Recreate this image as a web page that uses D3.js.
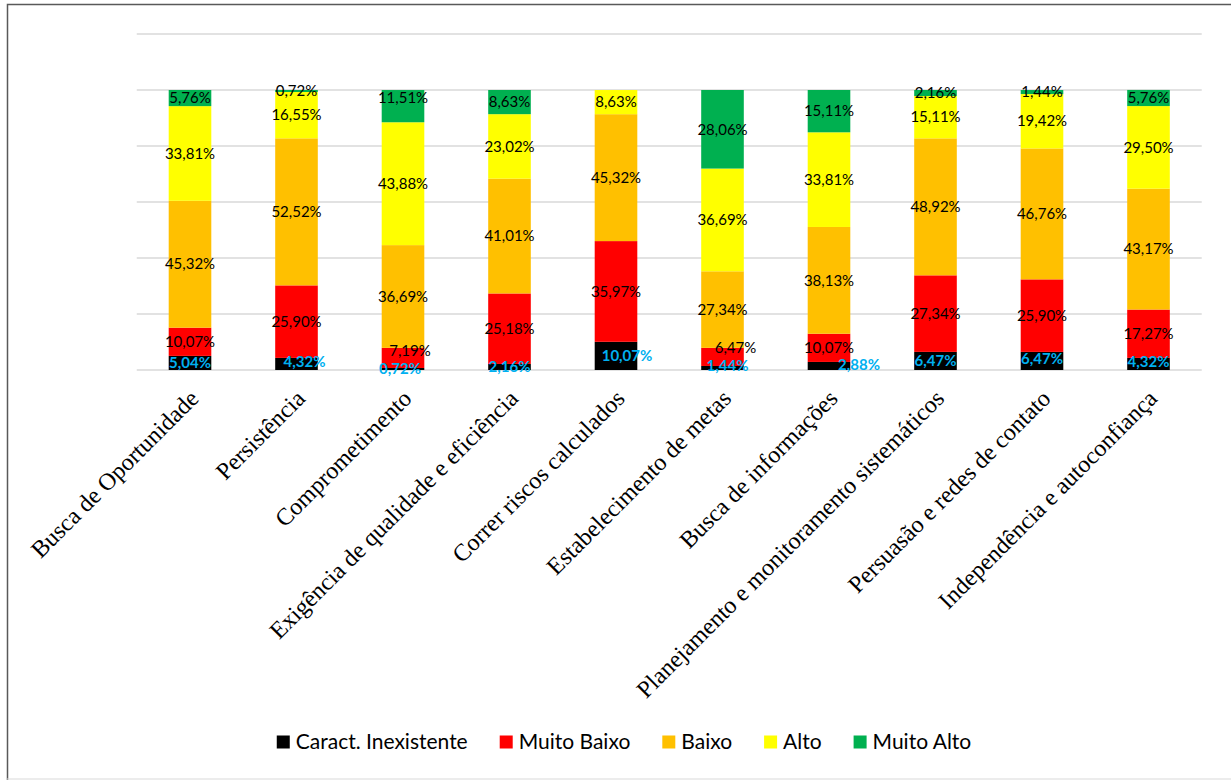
<!DOCTYPE html>
<html>
<head>
<meta charset="utf-8">
<script src="https://cdn.jsdelivr.net/npm/d3@7"></script>
<style>
  html, body { margin: 0; padding: 0; background: #fff; }
  svg { display: block; }
</style>
</head>
<body>
<div id="chart"></div>
<script>
// categories (x axis)
const categories = [
  "Busca de Oportunidade",
  "Persistência",
  "Comprometimento",
  "Exigência de qualidade e eficiência",
  "Correr riscos calculados",
  "Estabelecimento de metas",
  "Busca de informações",
  "Planejamento e monitoramento sistemáticos",
  "Persuasão e redes de contato",
  "Independência e autoconfiança"
];
// series names, stacked bottom -> top
const seriesNames = ["Caract. Inexistente", "Muito Baixo", "Baixo", "Alto", "Muito Alto"];
// values in %, one per category
const caractInexistente = [5.04, 4.32, 0.72, 2.16, 10.07, 1.44, 2.88, 6.47, 6.47, 4.32];
const muitoBaixo        = [10.07, 25.90, 7.19, 25.18, 35.97, 6.47, 10.07, 27.34, 25.90, 17.27];
const baixo             = [45.32, 52.52, 36.69, 41.01, 45.32, 27.34, 38.13, 48.92, 46.76, 43.17];
const alto              = [33.81, 16.55, 43.88, 23.02, 8.63, 36.69, 33.81, 15.11, 19.42, 29.50];
const muitoAlto         = [5.76, 0.72, 11.51, 8.63, 0, 28.06, 15.11, 2.16, 1.44, 5.76];
const gridTicks = [0, 20, 40, 60, 80, 100, 120];

const seriesValues = [caractInexistente, muitoBaixo, baixo, alto, muitoAlto];
const colors = ["#000000", "#ff0000", "#ffc000", "#ffff00", "#00b050"];

// hand-moved labels in the original (category index - series index): [dx, dy]
const labelNudge = {
  "1-0": [8, -2], "2-0": [-3, 0], "2-1": [7, -7], "2-4": [0, -8],
  "4-0": [11, 0], "5-0": [5, -2], "5-1": [13, -9], "6-0": [30, -1],
  "8-0": [0, -2], "9-0": [0, -2]
};

const W = 1231, H = 780;
const svg = d3.select("#chart").append("svg").attr("width", W).attr("height", H);

// frame
svg.append("path").attr("d", `M7.5,${H} V4.5 H${W}`)
  .attr("fill", "none").attr("stroke", "#595959").attr("stroke-width", 1.5);
svg.append("line").attr("x1", 7).attr("x2", W).attr("y1", 779).attr("y2", 779)
  .attr("stroke", "#d9d9d9").attr("stroke-width", 1);

const table = categories.map((c, i) => {
  const row = { cat: c, idx: i };
  seriesNames.forEach((s, j) => row[s] = seriesValues[j][i]);
  return row;
});

const x = d3.scaleBand().domain(categories).range([136.75, 1201.75]).paddingInner(0.6).paddingOuter(0.3);
const y = d3.scaleLinear().domain([0, 120]).range([370, 34]);

// gridlines
svg.append("g").selectAll("line").data(gridTicks).join("line")
  .attr("x1", 136.75).attr("x2", 1201.75)
  .attr("y1", d => y(d)).attr("y2", d => y(d))
  .attr("stroke", "#d9d9d9").attr("stroke-width", 1.3);

const stack = d3.stack().keys(seriesNames);
const stacked = stack(table);

const layers = svg.append("g").selectAll("g").data(stacked).join("g")
  .attr("fill", (d, i) => colors[i]);
layers.selectAll("rect").data(d => d).join("rect")
  .attr("x", d => x(d.data.cat))
  .attr("width", x.bandwidth())
  .attr("y", d => y(d[1]))
  .attr("height", d => y(d[0]) - y(d[1]));

const loc = d3.formatLocale({ decimal: ",", thousands: ".", grouping: [3], currency: ["R$", ""] });
const fmt = loc.format(".2f");

// data labels
stacked.forEach((layer, si) => {
  svg.append("g").selectAll("text").data(layer.filter(d => d[1] - d[0] > 0)).join("text")
    .attr("x", d => {
      const n = labelNudge[d.data.idx + "-" + si];
      return x(d.data.cat) + x.bandwidth() / 2 + (n ? n[0] : 0);
    })
    .attr("y", d => {
      const n = labelNudge[d.data.idx + "-" + si];
      return (y(d[0]) + y(d[1])) / 2 + (n ? n[1] : 0);
    })
    .attr("dy", "0.35em")
    .attr("text-anchor", "middle")
    .attr("font-family", "Lato, 'Noto Sans', sans-serif")
    .attr("font-size", "15px")
    .attr("font-weight", si === 0 ? "bold" : "normal")
    .attr("fill", si === 0 ? "#00b0f0" : "#000")
    .text(d => fmt(d[1] - d[0]) + "%");
});

// category labels
svg.append("g").selectAll("text").data(categories).join("text")
  .attr("transform", d => `translate(${x(d) + x.bandwidth() / 2 + 10},${400}) rotate(-45)`)
  .attr("text-anchor", "end")
  .attr("font-family", "'Liberation Serif', 'Times New Roman', serif")
  .attr("font-size", "24px")
  .attr("fill", "#000")
  .text(d => d);

// legend
const legend = svg.append("g").attr("font-family", "Lato, 'Noto Sans', sans-serif").attr("font-size", "21px");
const items = legend.selectAll("g").data(seriesNames).join("g");
items.append("rect").attr("width", 13).attr("height", 13).attr("y", -6.5).attr("fill", (d, i) => colors[i]);
items.append("text").attr("x", 19).attr("dy", "0.35em").attr("fill", "#000").text(d => d);
let cx = 0;
items.each(function() {
  const g = d3.select(this);
  g.attr("transform", `translate(${cx},0)`);
  cx += 19 + g.select("text").node().getComputedTextLength() + 32;
});
const total = cx - 32;
legend.attr("transform", `translate(${624 - total / 2},742)`);
</script>
</body>
</html>
